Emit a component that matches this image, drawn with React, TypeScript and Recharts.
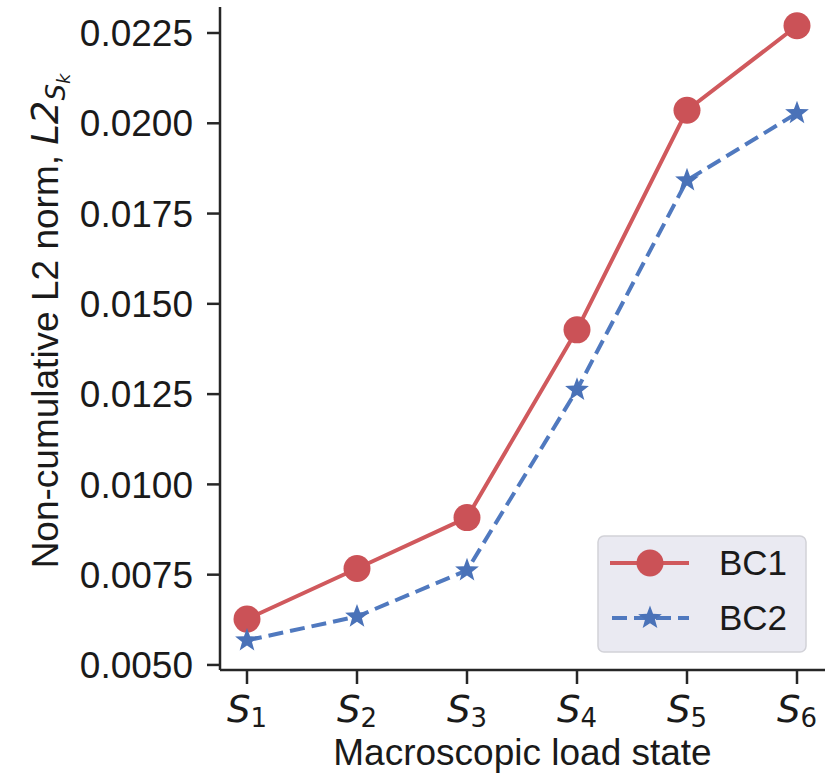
import React from "react";
import { LineChart, Line, XAxis, YAxis, Legend } from "recharts";

const states = ["S1", "S2", "S3", "S4", "S5", "S6"];
const bc1 = [0.00627, 0.00767, 0.00908, 0.01428, 0.02036, 0.02270];
const bc2 = [0.00568, 0.00634, 0.00762, 0.01262, 0.01842, 0.02028];
const yTicks = [0.005, 0.0075, 0.01, 0.0125, 0.015, 0.0175, 0.02, 0.0225];

const data = states.map((s, i) => ({ state: s, BC1: bc1[i], BC2: bc2[i] }));

const RED_LINE = "#D0595D";
const RED_DOT = "#CB5257";
const BLUE_LINE = "#5079BF";
const BLUE_DOT = "#4A72B8";
const AXIS = "#262626";
const FONT = "'Liberation Sans', Arial, sans-serif";
const MATH = "'DejaVu Sans', sans-serif";

const starPoints = (cx: number, cy: number, ro: number, ri: number) => {
  const pts: string[] = [];
  for (let i = 0; i < 10; i++) {
    const a = ((-90 + i * 36) * Math.PI) / 180;
    const r = i % 2 === 0 ? ro : ri;
    pts.push(`${cx + r * Math.cos(a)},${cy + r * Math.sin(a)}`);
  }
  return pts.join(" ");
};

const CircleDot = (props: any) => {
  const { cx, cy, key } = props;
  if (cx == null || cy == null) return null;
  return <circle key={key} cx={cx} cy={cy} r={13.5} fill={RED_DOT} />;
};

const StarDot = (props: any) => {
  const { cx, cy, key } = props;
  if (cx == null || cy == null) return null;
  return <polygon key={key} points={starPoints(cx, cy, 12.5, 5.2)} fill={BLUE_DOT} />;
};

const StateTick = (props: any) => {
  const { x, y, payload } = props;
  const sub = String(payload.value).slice(1);
  return (
    <text x={x} y={y + 36} textAnchor="middle" fill="#1a1a1a" fontFamily={MATH}>
      <tspan fontStyle="italic" fontSize={37}>S</tspan>
      <tspan fontSize={26} dy={5}>{sub}</tspan>
    </text>
  );
};

const YLabel = () => (
  <text
    x={58}
    y={321}
    transform="rotate(-90, 58, 321)"
    textAnchor="middle"
    fill="#1a1a1a"
    fontSize={37}
    fontFamily={FONT}
  >
    <tspan>Non-cumulative L2 norm, </tspan>
    <tspan fontFamily={MATH} fontStyle="italic">L2</tspan>
    <tspan fontFamily={MATH} fontStyle="italic" fontSize={26} dy={7}>S</tspan>
    <tspan fontFamily={MATH} fontStyle="italic" fontSize={18} dy={5}>k</tspan>
  </text>
);

const LegendBox = () => (
  <svg width={212} height={120} style={{ display: "block" }}>
    <rect x={1} y={1} width={208} height={116} rx={6} fill="#EAEAF2" stroke="#D2D2D8" strokeWidth={1.5} />
    <line x1={13} y1={28} x2={92} y2={28} stroke={RED_LINE} strokeWidth={4} />
    <circle cx={53} cy={28} r={13.5} fill={RED_DOT} />
    <text x={122} y={40} fontSize={35} fontFamily={FONT} fill="#1a1a1a">BC1</text>
    <line x1={15} y1={83} x2={92} y2={83} stroke={BLUE_LINE} strokeWidth={4} strokeDasharray="15 7" />
    <polygon points={starPoints(53, 83, 12.5, 5.2)} fill={BLUE_DOT} />
    <text x={122} y={95} fontSize={35} fontFamily={FONT} fill="#1a1a1a">BC2</text>
  </svg>
);

export default function App() {
  return (
    <div style={{ position: "absolute", left: 0, top: 0, background: "#fff" }}>
      <LineChart
        width={838}
        height={775}
        data={data}
        margin={{ top: 7, right: 13, bottom: 0, left: 0 }}
      >
        <XAxis
          dataKey="state"
          type="category"
          padding={{ left: 27, right: 28 }}
          height={105}
          axisLine={{ stroke: AXIS, strokeWidth: 2.5 }}
          tickLine={{ stroke: AXIS, strokeWidth: 2.5 }}
          tickSize={14}
          tickMargin={2}
          tick={<StateTick />}
          label={{
            value: "Macroscopic load state",
            position: "insideBottom",
            offset: 10,
            fontSize: 37,
            fontFamily: FONT,
            fill: "#1a1a1a",
          }}
        />
        <YAxis
          type="number"
          width={220}
          domain={[0.00486, 0.02322]}
          ticks={yTicks}
          allowDataOverflow
          tickFormatter={(v: number) => v.toFixed(4)}
          axisLine={{ stroke: AXIS, strokeWidth: 2.5 }}
          tickLine={{ stroke: AXIS, strokeWidth: 2.5 }}
          tickSize={13}
          tickMargin={14}
          tick={{ fontSize: 37, fontFamily: FONT, fill: "#1a1a1a" }}
          label={{ content: () => <YLabel /> }}
        />
        <Line
          dataKey="BC1"
          stroke={RED_LINE}
          strokeWidth={4}
          dot={CircleDot}
          activeDot={false}
          isAnimationActive={false}
        />
        <Line
          dataKey="BC2"
          stroke={BLUE_LINE}
          strokeWidth={4}
          strokeDasharray="15 7"
          dot={StarDot}
          activeDot={false}
          isAnimationActive={false}
        />
        <Legend
          layout="horizontal"
          verticalAlign="middle"
          align="center"
          content={() => <LegendBox />}
          wrapperStyle={{ position: "absolute", left: 597, top: 535, width: 212, height: 120 }}
        />
      </LineChart>
    </div>
  );
}
